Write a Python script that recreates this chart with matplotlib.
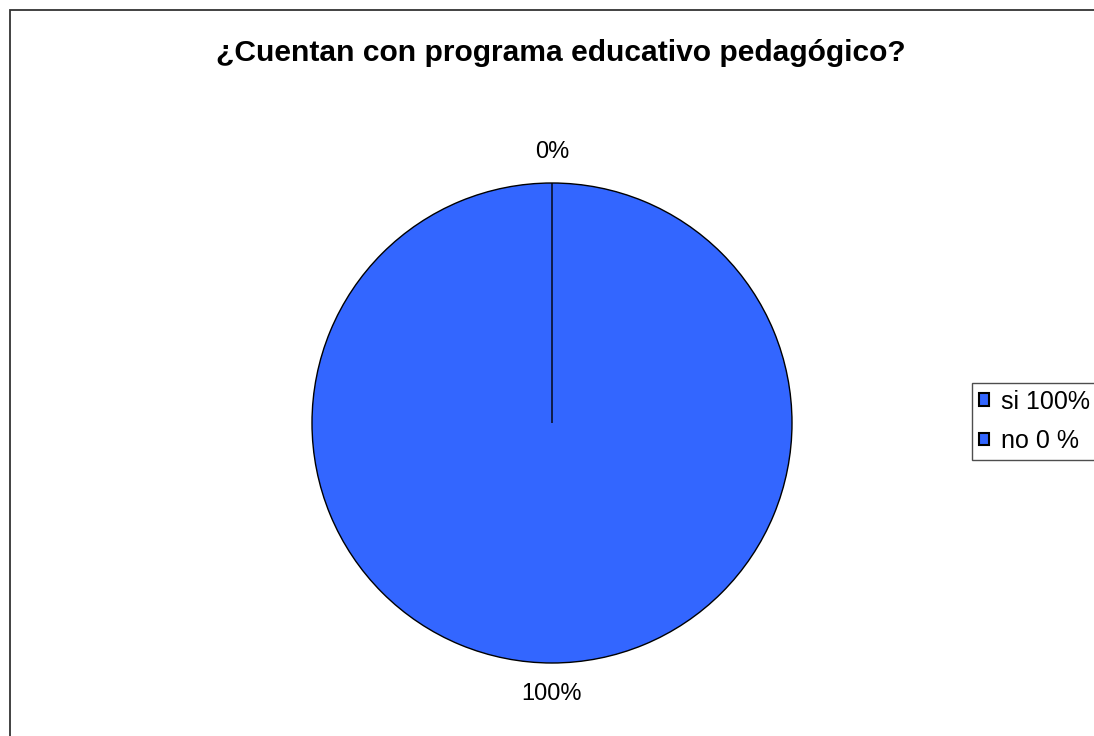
import matplotlib
matplotlib.use("Agg")
import matplotlib.pyplot as plt
from matplotlib.patches import Rectangle, Patch

title = "¿Cuentan con programa educativo pedagógico?"
categories = ["si 100%", "no 0 %"]
values = [100, 0]
pct_labels = ["100%", "0%"]
colors = ["#3366FF", "#3366FF"]

plt.rcParams['font.family'] = ['Liberation Sans', 'DejaVu Sans']

W, H = 1094, 736
fig = plt.figure(figsize=(W / 100, H / 100), dpi=100)
fig.patch.set_facecolor("white")

# outer frame
fig.patches.append(Rectangle((10 / W, -0.1), 1.2, 1 - 10 / H + 0.1,
                             transform=fig.transFigure, fill=False,
                             edgecolor="#333333", linewidth=1.3))

ax = fig.add_axes([312 / W, (H - 663) / H, 480 / W, 480 / H])
wedges, texts = ax.pie(values, labels=pct_labels, colors=colors,
                       startangle=90, counterclock=False, radius=1,
                       labeldistance=1.13,
                       wedgeprops=dict(edgecolor="black", linewidth=1.0),
                       textprops=dict(fontsize=17, color="black"))
for t in texts:
    t.set_ha("center")
    t.set_va("center")
ax.set_xlim(-1, 1)
ax.set_ylim(-1, 1)
ax.set_aspect("equal")
ax.axis("off")

fig.text(561 / W, 1 - 53 / H, title, ha="center", va="center",
         fontsize=21.6, fontweight="bold")

handles = [Patch(facecolor=c, edgecolor="black", linewidth=1.5) for c in colors]
leg = fig.legend(handles, categories, loc="upper left",
                 bbox_to_anchor=(972 / W, 1 - 383 / H),
                 fontsize=18, frameon=True, fancybox=False,
                 edgecolor="#222222", handlelength=0.4, handleheight=0.4,
                 handletextpad=0.5, labelspacing=0.61, borderpad=0.27,
                 borderaxespad=0)
leg.get_frame().set_linewidth(1.0)

fig.savefig("out.png", dpi=100)
